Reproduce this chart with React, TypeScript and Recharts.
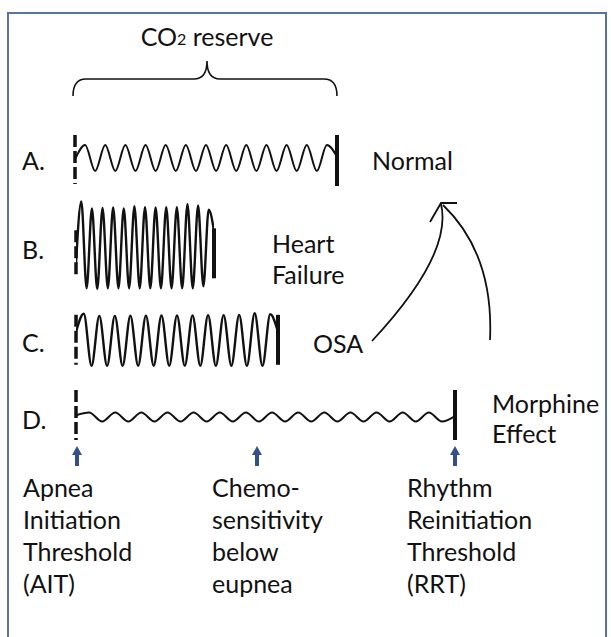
import { LineChart, Line, XAxis, YAxis, ReferenceLine } from 'recharts';

// row labels and the condition written to the right of each trace
const rowLabels = ['A.', 'B.', 'C.', 'D.'];
const rowNames = [['Normal'], ['Heart', 'Failure'], ['OSA'], ['Morphine', 'Effect']];

// breathing traces: successive peaks / troughs, in units of each trace's own amplitude
const normalWave = [-0.1, 1, -1, 1, -1, 1, -1, 1, -1, 1, -1, 1, -1, 1, -1, 1, -1, 1, -1, 1, -1, 1, -1, 1, -1, 1, 0.1];
const heartFailureWave = [-0.4, 1.12, -1, 0.95, -1.02, 0.96, -1, 0.97, -1, 0.95, -1, 1, -1, 0.98, -1, 0.97, -1, 0.98, -1, 0.98, -1, 1.06, -1, 1.02, -0.95, 0.92, 0.4];
const osaWave = [0.3, 1, -1, 0.92, -1, 0.92, -1, 0.93, -1, 0.93, -1, 0.94, -1, 0.94, -1, 0.94, -1, 0.95, -1, 0.95, -1, 0.96, -1, 1.02, -1, 0.98, 0.3];
const morphineWave = [0.4, 1, -1, 1, -1, 1, -1, 1, -1, 1, -1, 1, -1, 1, -1, 1, -1, 1, -1, 1, -1, 1, -1, 1, -1, 1, -1, 1, -1, 0.2];

// threshold captions under the arrows
const aitLines = ['Apnea', 'Initiation', 'Threshold', '(AIT)'];
const chemoLines = ['Chemo-', 'sensitivity', 'below', 'eupnea'];
const rrtLines = ['Rhythm', 'Reinitiation', 'Threshold', '(RRT)'];

const FONT = 'Lato, "Open Sans", sans-serif';
const INK = '#111';
const ARROW_BLUE = '#34508a';

const traces = [
  { wave: normalWave, x0: 75, x1: 337, cy: 158, amp: 13, bar: [-23, 26], end: [-23, 28], sw: 2 },
  { wave: heartFailureWave, x0: 76, x1: 214, cy: 247, amp: 41, bar: [-17, 31], end: [-19, 31], sw: 2.4 },
  { wave: osaWave, x0: 76, x1: 278, cy: 340, amp: 26, bar: [-25, 25], end: [-25, 25], sw: 2.4 },
  { wave: morphineWave, x0: 76, x1: 455, cy: 417, amp: 4.5, bar: [-27, 23], end: [-27, 23], sw: 2 },
];

function Trace({ wave, x0, x1, cy, amp, bar, end, sw }: any) {
  const pad = 5;
  const half = Math.max(amp * 1.3, -bar[0], bar[1], -end[0], end[1]) + 5;
  const n = wave.length - 1;
  const lim = half / amp;
  const toUnit = (px: number) => -px / amp;
  const data = wave.map((v: number, i: number) => ({ i, v }));

  return (
    <div style={{ position: 'absolute', left: x0 - pad, top: cy - half }}>
      <LineChart
        width={x1 - x0 + 2 * pad}
        height={2 * half}
        data={data}
        margin={{ top: 0, right: pad, bottom: 0, left: pad }}
      >
        <XAxis type="number" dataKey="i" domain={[0, n]} hide allowDataOverflow />
        <YAxis type="number" domain={[-lim, lim]} hide allowDataOverflow />
        <Line
          dataKey="v"
          type="monotone"
          stroke={INK}
          strokeWidth={sw}
          dot={false}
          isAnimationActive={false}
        />
        {/* apnea initiation threshold (dashed) and the end of the reserve (solid) */}
        <ReferenceLine
          segment={[{ x: 0, y: toUnit(bar[0]) }, { x: 0, y: toUnit(bar[1]) }]}
          stroke={INK}
          strokeWidth={3.5}
          strokeDasharray="12 4"
        />
        <ReferenceLine
          segment={[{ x: n, y: toUnit(end[0]) }, { x: n, y: toUnit(end[1]) }]}
          stroke={INK}
          strokeWidth={4}
        />
      </LineChart>
    </div>
  );
}

function UpArrow({ x }: { x: number }) {
  return (
    <g fill={ARROW_BLUE}>
      <rect x={x - 2} y={453} width={4} height={13} />
      <path d={`M${x - 5} 455 L${x} 446 L${x + 5} 455 Z`} />
    </g>
  );
}

function Caption({ x, lines }: { x: number; lines: string[] }) {
  return (
    <>
      {lines.map((t, k) => (
        <text key={k} x={x} y={487 + k * 32} dominantBaseline="central" fontSize={25}>
          {t}
        </text>
      ))}
    </>
  );
}

export default function App() {
  const rowY = traces.map((t) => t.cy);
  return (
    <div style={{ position: 'absolute', left: 0, top: 0, width: 611, height: 637, background: '#fff', overflow: 'hidden' }}>
      {/* frame */}
      <div
        style={{
          position: 'absolute',
          left: 7,
          top: 12,
          width: 600,
          height: 700,
          border: '2px solid #5873a4',
          boxSizing: 'border-box',
        }}
      />

      {traces.map((t, k) => (
        <Trace key={k} {...t} />
      ))}

      <svg
        width={611}
        height={637}
        style={{ position: 'absolute', left: 0, top: 0, pointerEvents: 'none' }}
        fontFamily={FONT}
        fill={INK}
      >
        <text x={207} y={36} textAnchor="middle" dominantBaseline="central" fontSize={25}>
          CO<tspan fontSize={16} dy={2}>2</tspan>
          <tspan dy={-2}> reserve</tspan>
        </text>
        <path
          d="M73 96 Q73 79 86 79 L194 79 Q207 79 207 61 Q207 79 220 79 L324 79 Q337 79 337 96"
          fill="none"
          stroke={INK}
          strokeWidth={1.6}
        />

        {rowLabels.map((l, k) => (
          <text key={l} x={22} y={rowY[k] + 2} dominantBaseline="central" fontSize={25}>
            {l}
          </text>
        ))}

        <text x={372} y={160} dominantBaseline="central" fontSize={25}>{rowNames[0][0]}</text>
        <text x={272} y={243} dominantBaseline="central" fontSize={25}>{rowNames[1][0]}</text>
        <text x={272} y={274} dominantBaseline="central" fontSize={25}>{rowNames[1][1]}</text>
        <text x={313} y={343} dominantBaseline="central" fontSize={25}>{rowNames[2][0]}</text>
        <text x={492} y={403} dominantBaseline="central" fontSize={25}>{rowNames[3][0]}</text>
        <text x={492} y={433} dominantBaseline="central" fontSize={25}>{rowNames[3][1]}</text>

        {/* curved arrow from OSA towards Normal */}
        <g fill="none" stroke={INK} strokeWidth={1.8}>
          <path d="M372 341 Q453 254 441 204" />
          <path d="M443 205 Q494 254 490 340" />
          <path d="M430 222 L441 203 L457 203" />
        </g>

        <UpArrow x={77} />
        <UpArrow x={257} />
        <UpArrow x={455} />

        <Caption x={23} lines={aitLines} />
        <Caption x={212} lines={chemoLines} />
        <Caption x={407} lines={rrtLines} />
      </svg>
    </div>
  );
}
